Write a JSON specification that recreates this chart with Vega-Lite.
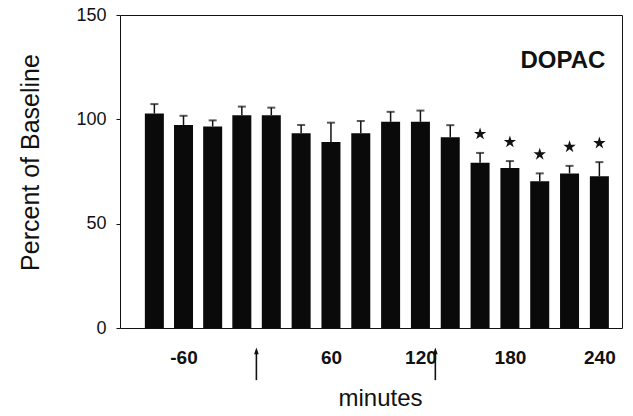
{
  "$schema": "https://vega.github.io/schema/vega-lite/v6.json",
  "autosize": "none",
  "width": 502,
  "height": 313,
  "padding": {"left": 120, "top": 15, "right": 11, "bottom": 88},
  "background": "white",
  "config": {
    "view": {"stroke": "#111", "strokeWidth": 1},
    "font": "Liberation Sans"
  },
  "datasets": {
    "bars": [
      {"minutes": -80, "value": 102.8, "upper": 107.3, "sig": false},
      {"minutes": -60, "value": 97.3, "upper": 101.7, "sig": false},
      {"minutes": -40, "value": 96.6, "upper": 99.5, "sig": false},
      {"minutes": -20, "value": 101.9, "upper": 106.1, "sig": false},
      {"minutes": 20, "value": 102.0, "upper": 105.6, "sig": false},
      {"minutes": 40, "value": 93.3, "upper": 97.3, "sig": false},
      {"minutes": 60, "value": 89.1, "upper": 98.4, "sig": false},
      {"minutes": 80, "value": 93.3, "upper": 99.2, "sig": false},
      {"minutes": 100, "value": 98.8, "upper": 103.6, "sig": false},
      {"minutes": 120, "value": 98.8, "upper": 104.2, "sig": false},
      {"minutes": 140, "value": 91.4, "upper": 97.2, "sig": false},
      {"minutes": 160, "value": 79.2, "upper": 83.9, "sig": true},
      {"minutes": 180, "value": 76.7, "upper": 80.0, "sig": true},
      {"minutes": 200, "value": 70.3, "upper": 74.1, "sig": true},
      {"minutes": 220, "value": 74.1, "upper": 77.7, "sig": true},
      {"minutes": 240, "value": 72.7, "upper": 79.5, "sig": true}
    ],
    "events": [
      {"minutes": 0},
      {"minutes": 130}
    ],
    "label": [
      {"name": "DOPAC"}
    ]
  },
  "layer": [
    {
      "data": {"name": "bars"},
      "mark": {"type": "rule", "color": "#111", "strokeWidth": 1.5},
      "encoding": {
        "x": {
          "field": "minutes", "type": "quantitative",
          "scale": {"domain": [-100, -10, 10, 251.6], "range": [0, 136.4, 136.4, 502], "nice": false, "zero": false},
          "axis": {
            "values": [-60, 60, 120, 180, 240],
            "labelExpr": "'' + datum.value",
            "title": "minutes",
            "domain": false, "ticks": false, "grid": false,
            "labelFont": "Liberation Sans", "labelFontSize": 19, "labelFontWeight": "bold",
            "labelColor": "#111", "labelPadding": 20,
            "titleFont": "Liberation Sans", "titleFontSize": 24, "titleFontWeight": "normal",
            "titleColor": "#111", "titleX": 260, "titleY": 70, "titleBaseline": "middle", "titleAnchor": null
          }
        },
        "y": {
          "field": "value", "type": "quantitative",
          "scale": {"domain": [0, 150], "nice": false, "zero": false},
          "axis": {
            "values": [0, 50, 100, 150],
            "title": "Percent of Baseline",
            "domain": false, "grid": false, "tickSize": 4, "tickColor": "#111",
            "labelFont": "Liberation Sans", "labelFontSize": 18, "labelFontWeight": "normal",
            "labelColor": "#111", "labelPadding": 10,
            "titleFont": "Liberation Sans", "titleFontSize": 25, "titleFontWeight": "normal",
            "titleColor": "#111", "titleX": -90, "titleY": 147, "titleAngle": -90,
            "titleAlign": "center", "titleBaseline": "middle"
          }
        },
        "y2": {"field": "upper"}
      }
    },
    {
      "data": {"name": "bars"},
      "mark": {"type": "tick", "orient": "horizontal", "color": "#111", "size": 8, "thickness": 2},
      "encoding": {
        "x": {"field": "minutes", "type": "quantitative"},
        "y": {"field": "upper", "type": "quantitative"}
      }
    },
    {
      "data": {"name": "bars"},
      "mark": {"type": "bar", "color": "#0a0a0a", "width": 19},
      "encoding": {
        "x": {"field": "minutes", "type": "quantitative"},
        "y": {"field": "value", "type": "quantitative"}
      }
    },
    {
      "data": {"name": "bars"},
      "transform": [{"filter": "datum.sig"}],
      "mark": {
        "type": "point", "filled": true, "color": "#111", "size": 170, "opacity": 1, "yOffset": -19,
        "shape": "M0,-1L0.2245,-0.309L0.951,-0.309L0.363,0.118L0.588,0.809L0,0.382L-0.588,0.809L-0.363,0.118L-0.951,-0.309L-0.2245,-0.309Z"
      },
      "encoding": {
        "x": {"field": "minutes", "type": "quantitative"},
        "y": {"field": "upper", "type": "quantitative"}
      }
    },
    {
      "data": {"name": "events"},
      "mark": {"type": "rule", "color": "#111", "strokeWidth": 1.6},
      "encoding": {
        "x": {"field": "minutes", "type": "quantitative"},
        "y": {"datum": -11},
        "y2": {"datum": -25}
      }
    },
    {
      "data": {"name": "events"},
      "mark": {
        "type": "point", "filled": true, "color": "#111", "size": 180, "opacity": 1,
        "shape": "M-0.35,1L0,0L0.35,1Z"
      },
      "encoding": {
        "x": {"field": "minutes", "type": "quantitative"},
        "y": {"datum": -9.4}
      }
    },
    {
      "data": {"name": "label"},
      "mark": {"type": "text", "font": "Liberation Sans", "fontSize": 24, "fontWeight": "bold", "align": "right", "baseline": "middle", "color": "#111"},
      "encoding": {
        "text": {"field": "name"},
        "x": {"datum": 244},
        "y": {"datum": 128}
      }
    }
  ]
}
